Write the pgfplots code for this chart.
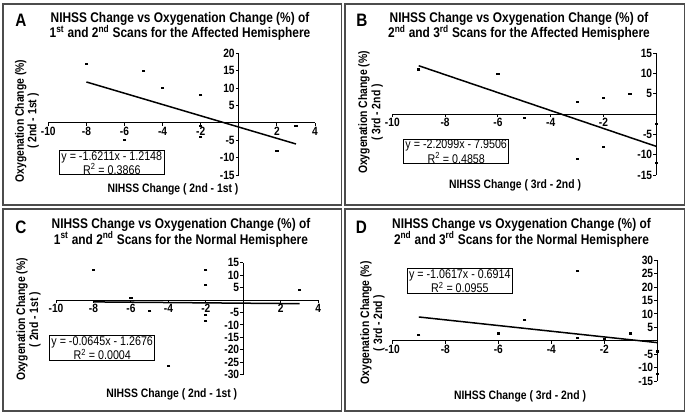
\documentclass[border=0pt]{standalone}
\usepackage{fontspec}
\setmainfont{Liberation Sans}[FakeStretch=0.85]
\usepackage{pgfplots}
\pgfplotsset{compat=1.18}
\pgfplotsset{
  panel/.style={
    scale only axis,
    anchor=south west,
    axis lines=middle,
    axis line style={-, black, line width=1pt},
    tick style={black, line width=0.9pt},
    tick align=outside,
    major tick length=3pt,
    /pgf/number format/assume math mode=true,
    tick label style={font=\bfseries\fontsize{12}{12}\selectfont, inner sep=1pt},
    clip=false,
  },
  pts/.style={only marks, mark=-, mark size=1.6pt, mark options={line width=2.1pt, black}},
  trend/.style={no marks, black, line width=1.5pt},
}
\newcommand{\ttl}{\bfseries\fontsize{14}{16}\selectfont}
\newcommand{\lbl}{\bfseries\fontsize{12.2}{14}\selectfont}
\newcommand{\eqf}{\fontsize{12.6}{13}\selectfont}
\begin{document}
\begin{tikzpicture}[x=1pt,y=1pt]
\fill[white] (0,0) rectangle (688,415);
\draw[gray!60!black, line width=1.2pt] (3,411) rectangle (341.5,210);
\draw[gray!60!black, line width=1.2pt] (345,411) rectangle (684.5,210);
\draw[gray!60!black, line width=1.2pt] (3,206) rectangle (341.5,4);
\draw[gray!60!black, line width=1.2pt] (345,206) rectangle (684.5,4);

% ---------- A ----------
\begin{axis}[panel, at={(48.3pt,240pt)}, width=266.7pt, height=121.7pt,
  xmin=-10, xmax=4, ymin=-15, ymax=20,
  xtick={-10,-8,-6,-4,-2,0,2,4},
  ytick={-15,-10,-5,0,5,10,15,20}]
\addplot[pts] coordinates {(-8,17) (-5,15) (-4,10) (-2,8) (-2,-1) (-2,-4) (-6,-5) (2,-8) (3,-1)};
\addplot[trend] coordinates {(-8,11.754) (3,-6.078)};
\end{axis}
% ---------- B ----------
\begin{axis}[panel, at={(392.3pt,240pt)}, width=264pt, height=121.7pt,
  xmin=-10, xmax=0, ymin=-15, ymax=15,
  xtick={-10,-8,-6,-4,-2,0},
  ytick={-15,-10,-5,0,5,10,15}]
\addplot[pts] coordinates {(-9,11) (-6,10) (-5,-1) (-3,3) (-2,4) (-1,5) (-3,-11) (-2,-8) (0,-12) (0,-2.5)};
\addplot[trend] coordinates {(-9,11.9385) (0,-7.9506)};
\end{axis}
% ---------- C ----------
\begin{axis}[panel, at={(56pt,40.3pt)}, width=262.3pt, height=112pt,
  xmin=-10, xmax=4, ymin=-30, ymax=15,
  xtick={-10,-8,-6,-4,-2,0,2,4},
  ytick={-30,-25,-20,-15,-10,-5,0,5,10,15}]
\addplot[pts] coordinates {(-8,12) (-6,0.7) (-5,-4.3) (-4,-26.4) (-2,12) (-2,6) (-2,-6) (-2,-8.6) (2,-1.6) (3,4)};
\addplot[trend] coordinates {(-8,-0.7516) (3,-1.4611)};
\end{axis}
% ---------- D ----------
\begin{axis}[panel, at={(392.3pt,34pt)}, width=265pt, height=120.7pt,
  xmin=-10, xmax=0, ymin=-15, ymax=30,
  xtick={-10,-8,-6,-4,-2,0},
  ytick={-15,-10,-5,0,5,10,15,20,25,30}]
\addplot[pts] coordinates {(-9,2) (-6,2.7) (-5,7.8) (-3,26) (-3,1) (-2,0.5) (-1,2.7) (0,-4) (0,-12.4)};
\addplot[trend] coordinates {(-9,8.8639) (0,-0.6914)};
\end{axis}

% letters
\node[font=\bfseries\fontsize{18}{18}\selectfont] at (21,395) {A};
\node[font=\bfseries\fontsize{18}{18}\selectfont] at (362,395) {B};
\node[font=\bfseries\fontsize{18}{18}\selectfont] at (21,188) {C};
\node[font=\bfseries\fontsize{18}{18}\selectfont] at (361.5,188) {D};
% titles
\node[font=\ttl] at (180,395.7) {NIHSS Change vs Oxygenation Change (\%) of};
\node[font=\ttl] at (180,382) {1\textsuperscript{st} and 2\textsuperscript{nd} Scans for the Affected Hemisphere};
\node[font=\ttl] at (519,395.7) {NIHSS Change vs Oxygenation Change (\%) of};
\node[font=\ttl] at (519,382) {2\textsuperscript{nd} and 3\textsuperscript{rd} Scans for the Affected Hemisphere};
\node[font=\ttl] at (181,189.7) {NIHSS Change vs Oxygenation Change (\%) of};
\node[font=\ttl] at (181,175.7) {1\textsuperscript{st} and 2\textsuperscript{nd} Scans for the Normal Hemisphere};
\node[font=\ttl] at (521.5,189.7) {NIHSS Change vs Oxygenation Change (\%) of};
\node[font=\ttl] at (521.5,175.7) {2\textsuperscript{nd} and 3\textsuperscript{rd} Scans for the Normal Hemisphere};
% x labels
\node[font=\lbl] at (173,225.7) {NIHSS Change ( 2nd - 1st )};
\node[font=\lbl] at (515,230) {NIHSS Change ( 3rd - 2nd )};
\node[font=\lbl] at (171.7,20.3) {NIHSS Change ( 2nd - 1st )};
\node[font=\lbl] at (520,18.7) {NIHSS Change ( 3rd - 2nd )};
% y labels
\node[font=\lbl, rotate=90] at (20.7,294) {Oxygenation Change (\%)};
\node[font=\lbl, rotate=90] at (33.3,294) {( 2nd - 1st )};
\node[font=\lbl, rotate=90] at (364,302.5) {Oxygenation Change (\%)};
\node[font=\lbl, rotate=90] at (377.3,302.5) {( 3rd - 2nd )};
\node[font=\lbl, rotate=90] at (22,95.5) {Oxygenation Change (\%)};
\node[font=\lbl, rotate=90] at (35,95.5) {( 2nd - 1st )};
\node[font=\lbl, rotate=90] at (366,92.2) {Oxygenation Change (\%)};
\node[font=\lbl, rotate=90] at (379,92.2) {( 3rd - 2nd )};
% equation boxes
\node[draw, line width=1pt, fill=white, align=center, font=\eqf, minimum width=105pt, minimum height=22.5pt, inner sep=0.5pt] at (111.8,252.2) {y = -1.6211x - 1.2148\\R\textsuperscript{2} = 0.3866};
\node[draw, line width=1pt, fill=white, align=center, font=\eqf, minimum width=105.5pt, minimum height=23.3pt, inner sep=0.5pt] at (456.2,263.3) {y = -2.2099x - 7.9506\\R\textsuperscript{2} = 0.4858};
\node[draw, line width=1pt, fill=white, align=center, font=\eqf, minimum width=105.5pt, minimum height=25.5pt, inner sep=0.5pt] at (102.2,66.8) {y = -0.0645x - 1.2676\\R\textsuperscript{2} = 0.0004};
\node[draw, line width=1pt, fill=white, align=center, font=\eqf, minimum width=105pt, minimum height=25pt, inner sep=0.5pt] at (459.8,133.8) {y = -1.0617x - 0.6914\\R\textsuperscript{2} = 0.0955};
\end{tikzpicture}
\end{document}
